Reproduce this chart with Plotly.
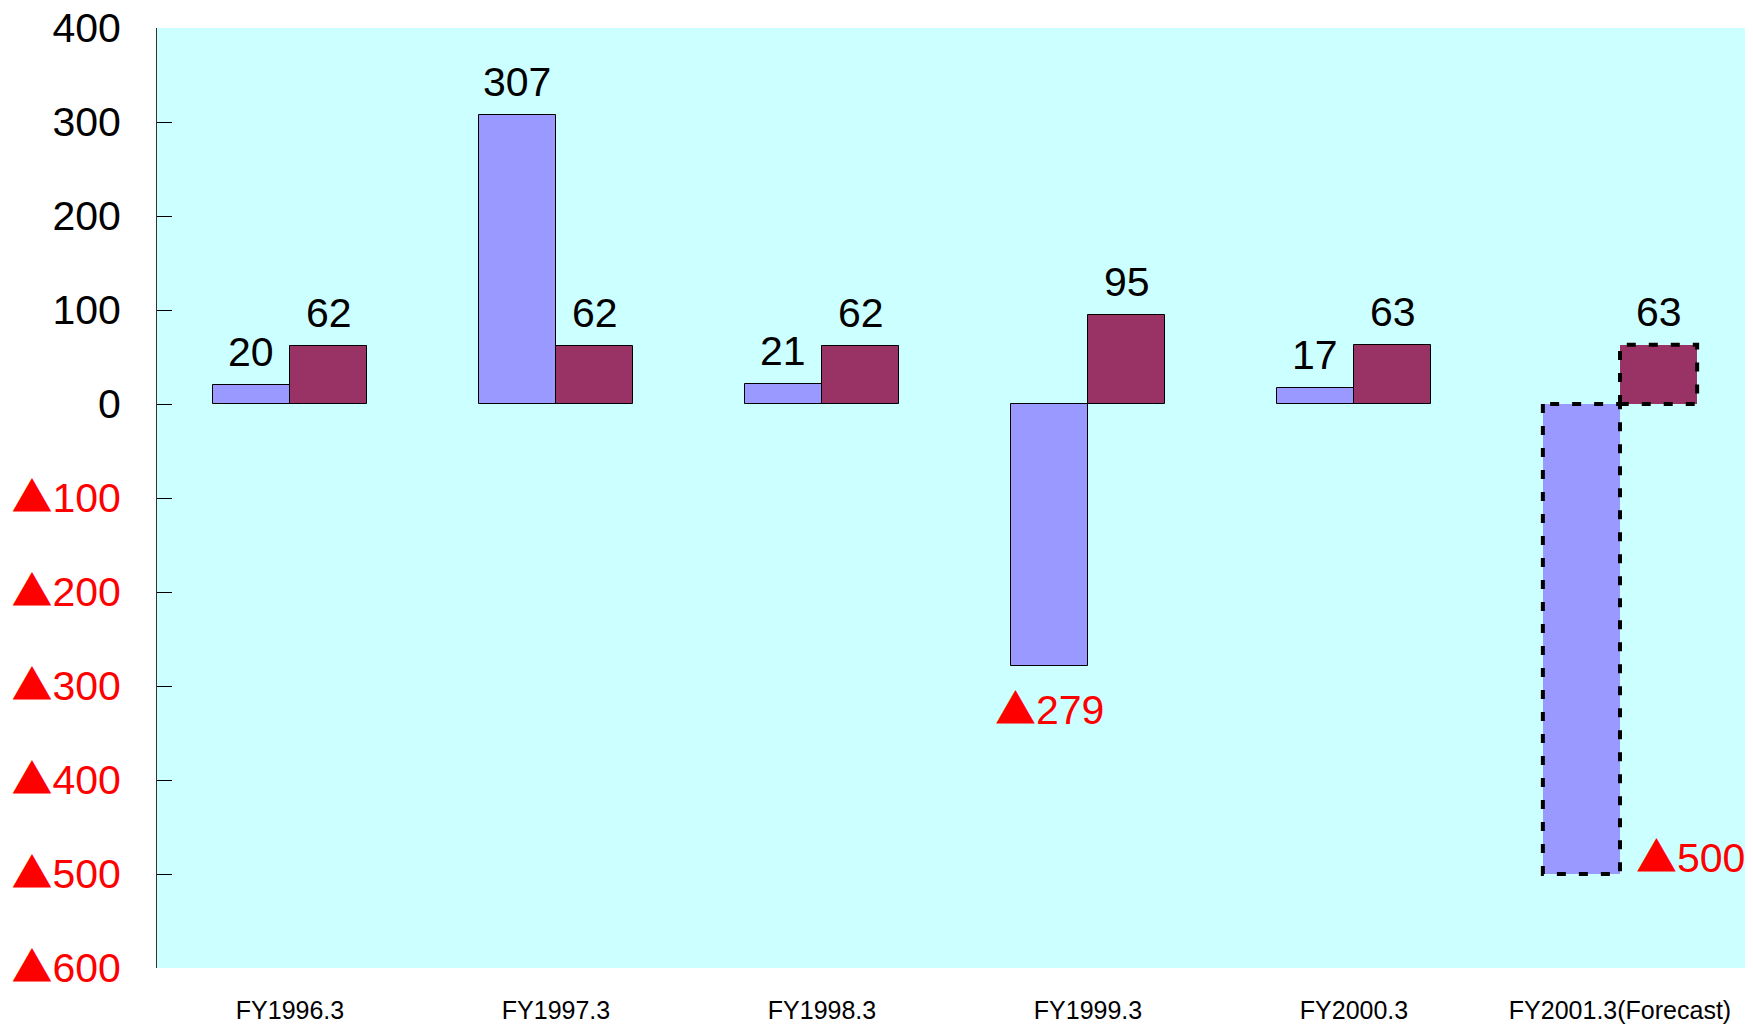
import plotly.graph_objects as go

categories = ["FY1996.3", "FY1997.3", "FY1998.3", "FY1999.3", "FY2000.3", "FY2001.3(Forecast)"]
series_a = [20, 307, 21, -279, 17, -500]
series_b = [62, 62, 62, 95, 63, 63]
forecast = [False, False, False, False, False, True]

y_ticks = [400, 300, 200, 100, 0, -100, -200, -300, -400, -500, -600]

BLUE = "#9999FF"
MAROON = "#993366"
BG = "#CCFFFF"
BW = 0.29  # bar width in category units
TRI = "<span style=\"font-family:'Noto Sans CJK JP'\">▲</span>"


def fmt(v):
    return str(v) if v >= 0 else TRI + str(-v)


x_idx = list(range(len(categories)))
line_w = [0 if f else 1 for f in forecast]

fig = go.Figure()
fig.add_trace(go.Bar(
    x=x_idx, y=series_a, width=BW, offset=-BW,
    marker=dict(color=BLUE, line=dict(color="black", width=line_w)),
    showlegend=False, hoverinfo="skip",
))
fig.add_trace(go.Bar(
    x=x_idx, y=series_b, width=BW, offset=0,
    marker=dict(color=MAROON, line=dict(color="black", width=line_w)),
    showlegend=False, hoverinfo="skip",
))

# dashed outlines for forecast bars
for i, f in enumerate(forecast):
    if not f:
        continue
    for left, v in ((i - BW, series_a[i]), (i, series_b[i])):
        fig.add_trace(go.Scatter(
            x=[left, left, left + BW, left + BW, left],
            y=[0, v, v, 0, 0],
            mode="lines", line=dict(color="black", width=4, dash="9px,13px"),
            showlegend=False, hoverinfo="skip",
        ))

# value labels
lab_font = dict(family="Liberation Sans, Arial", size=41)
for i in x_idx:
    for center, v in ((i - BW / 2, series_a[i]), (i + BW / 2, series_b[i])):
        if v >= 0:
            fig.add_annotation(x=center, y=v, text=fmt(v), showarrow=False,
                               yanchor="bottom", yshift=8,
                               font=dict(color="black", **lab_font))
        elif forecast[i]:
            fig.add_annotation(x=i + BW / 2, y=v, text=fmt(v), showarrow=False,
                               yanchor="middle", yshift=20, xshift=32,
                               font=dict(color="red", **lab_font))
        else:
            fig.add_annotation(x=center, y=v, text=fmt(v), showarrow=False,
                               yanchor="top", yshift=-8,
                               font=dict(color="red", **lab_font))

tick_text = [fmt(t) if t >= 0 else "<span style='color:red'>" + fmt(t) + "</span>"
             for t in y_ticks]

fig.update_layout(
    width=1745, height=1017,
    margin=dict(l=149, r=0, t=20, b=57),
    paper_bgcolor="white", plot_bgcolor=BG,
    bargap=0,
    xaxis=dict(
        range=[-0.5, len(categories) - 0.5],
        tickmode="array", tickvals=x_idx, ticktext=categories,
        tickfont=dict(family="Liberation Sans, Arial", size=25, color="black"),
        showgrid=False, zeroline=False, showline=False, ticks="",
        ticklabelstandoff=25, automargin=False, ticklabeloverflow="allow",
    ),
    xaxis2=dict(
        overlaying="x", anchor="free", position=0.6, side="bottom",
        range=[-0.5, len(categories) - 0.5],
        tickmode="array", tickvals=[i + 0.5 for i in x_idx[:-1]],
        showticklabels=False, ticks="outside", ticklen=6, tickcolor="black",
        showline=True, linecolor="black", linewidth=1,
        showgrid=False, zeroline=False,
    ),
    yaxis=dict(
        range=[-600, 400],
        tickmode="array", tickvals=y_ticks, ticktext=tick_text,
        tickfont=dict(family="Liberation Sans, Arial", size=41, color="black"),
        ticks="inside", ticklen=15, tickcolor="black",
        showline=True, linecolor="#333333", linewidth=1,
        showgrid=False, zeroline=False,
        ticklabelstandoff=27, automargin=False, ticklabeloverflow="allow",
    ),
)

fig.write_html("out.html")
